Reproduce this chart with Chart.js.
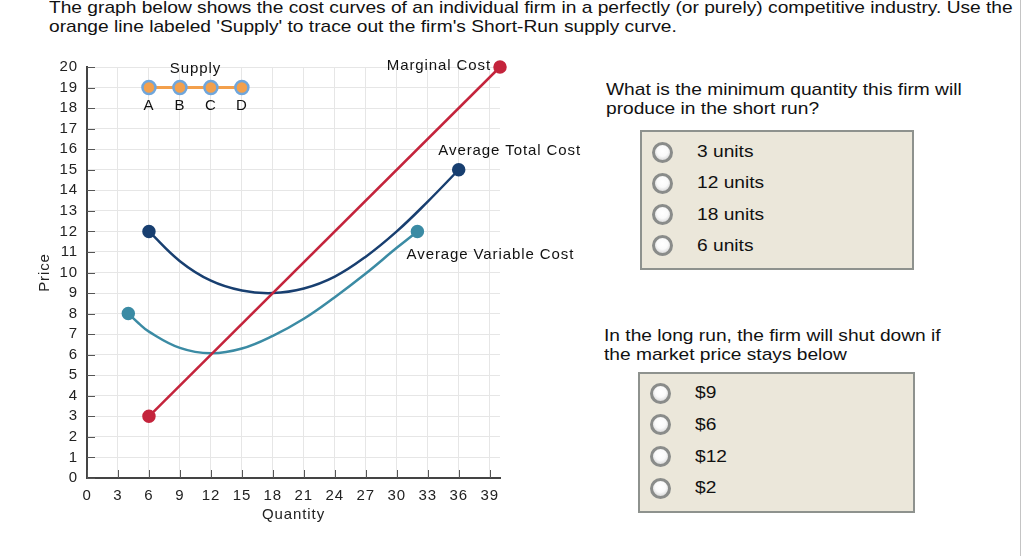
<!DOCTYPE html>
<html>
<head>
<meta charset="utf-8">
<script src="https://cdn.jsdelivr.net/npm/chart.js@4.4.0/dist/chart.umd.min.js"></script>
<style>
  html, body { margin:0; padding:0; background:#fff; }
  body { width:1024px; height:556px; position:relative; overflow:hidden; font-family:"Liberation Sans", Arial, sans-serif; color:#111; }
  .sx { transform:scaleX(1.155); transform-origin:0 0; }
  #title { position:absolute; left:49px; top:-2px; font-size:16.6px; line-height:19px; white-space:nowrap; }
  #chartWrap { position:absolute; left:0; top:0; width:600px; height:556px; }
  .q { position:absolute; font-size:16.6px; line-height:19px; white-space:nowrap; }
  .box { position:absolute; background:#ebe7da; border:2px solid #8e928e; box-sizing:border-box; }
  .opt { position:absolute; font-size:16.6px; line-height:20px; white-space:nowrap; }
  .radio { position:absolute; width:21px; height:21px; border-radius:50%; box-sizing:border-box;
           border:3px solid #8a8c8a; background:radial-gradient(circle at 50% 40%, #ffffff 0%, #fafafa 45%, #c4c4c4 100%); }
  #vline { position:absolute; left:1020px; top:0; width:1px; height:556px; background:#c4c4c4; }
</style>
</head>
<body>
<div id="title" class="sx">The graph below shows the cost curves of an individual firm in a perfectly (or purely) competitive industry. Use the<br>orange line labeled 'Supply' to trace out the firm's Short-Run supply curve.</div>
<div id="chartWrap"><canvas id="c"></canvas></div>
<div id="vline"></div>
<div id="qa"></div>
<script>
// ---- data ----
const xTickLabels = [0, 3, 6, 9, 12, 15, 18, 21, 24, 27, 30, 33, 36, 39];
const yTickLabels = [0,1,2,3,4,5,6,7,8,9,10,11,12,13,14,15,16,17,18,19,20];
const supplyQ = [6, 9, 12, 15];
const supplyP = [19, 19, 19, 19];
const supplyPointNames = ['A', 'B', 'C', 'D'];
const mcQ = [6, 40];
const mcP = [3, 20];
const atcQ = [6, 9, 12, 15, 18, 21, 24, 27, 30, 33, 36];
const atcP = [12, 10.55, 9.6, 9.12, 9.0, 9.22, 9.8, 10.77, 12.0, 13.45, 15];
const avcQ = [4, 5, 6, 9, 12, 15, 18, 21, 24, 27, 30, 32];
const avcP = [8, 7.53, 7.12, 6.33, 6.07, 6.3, 6.92, 7.75, 8.8, 9.95, 11.2, 12];
const curveNames = ['Supply', 'Marginal Cost', 'Average Total Cost', 'Average Variable Cost'];
const question1 = ['What is the minimum quantity this firm will', 'produce in the short run?'];
const answers1 = ['3 units', '12 units', '18 units', '6 units'];
const question2 = ['In the long run, the firm will shut down if', 'the market price stays below'];
const answers2 = ['$9', '$6', '$12', '$2'];

// ---- question panel ----
(function(){
  const qa = document.getElementById('qa');
  function addQ(lines, left, top){
    const d = document.createElement('div'); d.className='q sx';
    d.style.left=left+'px'; d.style.top=top+'px';
    d.innerHTML = lines.join('<br>'); qa.appendChild(d);
  }
  function addBox(opts, left, top, w, h, textLeft, firstY, step){
    const b = document.createElement('div'); b.className='box';
    b.style.left=left+'px'; b.style.top=top+'px'; b.style.width=w+'px'; b.style.height=h+'px';
    qa.appendChild(b);
    opts.forEach((t,i)=>{
      const cy = firstY + i*step;
      const r = document.createElement('div'); r.className='radio';
      r.style.left=(left+12)+'px'; r.style.top=(cy-10.5)+'px'; qa.appendChild(r);
      const o = document.createElement('div'); o.className='opt sx';
      o.style.left=textLeft+'px'; o.style.top=(cy-10)+'px'; o.textContent=t; qa.appendChild(o);
    });
  }
  addQ(question1, 606, 80);
  addBox(answers1, 640, 130, 274, 140, 697, 152, 31.3);
  addQ(question2, 604, 326);
  addBox(answers2, 638, 372, 277, 141, 695, 393, 31.8);
})();

// ---- chart ----
const pts = (xs, ys) => xs.map((x,i)=>({x:x, y:ys[i]}));
const endRadius = (n, r) => Array.from({length:n}, (_,i)=> (i===0||i===n-1) ? r : 0);

const FONT = '"Liberation Sans", Arial, sans-serif';
const SPACING = '0.9px';

const labelPlugin = {
  id:'labels',
  beforeDraw(chart){ chart.ctx.letterSpacing = SPACING; },
  afterDatasetsDraw(chart){
    const ctx = chart.ctx, xs = chart.scales.x, ys = chart.scales.y;
    ctx.save();
    ctx.letterSpacing = SPACING;
    // inward tick marks
    ctx.strokeStyle = '#555'; ctx.lineWidth = 1;
    xTickLabels.forEach(v=>{
      const px = Math.round(xs.getPixelForValue(v))+0.5;
      ctx.beginPath(); ctx.moveTo(px, ys.bottom); ctx.lineTo(px, ys.bottom-8); ctx.stroke();
    });
    yTickLabels.forEach(v=>{
      const py = Math.round(ys.getPixelForValue(v))+0.5;
      ctx.beginPath(); ctx.moveTo(xs.left, py); ctx.lineTo(xs.left+8, py); ctx.stroke();
    });
    ctx.fillStyle = '#111';
    ctx.font = '15px ' + FONT;
    ctx.textBaseline = 'middle';
    const sx = (xs.getPixelForValue(supplyQ[0]) + xs.getPixelForValue(supplyQ[supplyQ.length-1]))/2;
    ctx.textAlign = 'center';
    ctx.fillText(curveNames[0], sx, ys.getPixelForValue(supplyP[0]) - 19);
    supplyQ.forEach((q,i)=>{
      ctx.fillText(supplyPointNames[i], xs.getPixelForValue(q), ys.getPixelForValue(supplyP[i]) + 18);
    });
    ctx.textAlign = 'right';
    ctx.fillText(curveNames[1], xs.getPixelForValue(mcQ[1]) - 9, ys.getPixelForValue(mcP[1]) - 1);
    ctx.textAlign = 'center';
    ctx.fillText(curveNames[2], xs.getPixelForValue(atcQ[atcQ.length-1]) + 51, ys.getPixelForValue(atcP[atcP.length-1]) - 19);
    ctx.fillText(curveNames[3], xs.getPixelForValue(avcQ[avcQ.length-1]) + 73, ys.getPixelForValue(avcP[avcP.length-1]) + 23);
    ctx.restore();
  }
};

new Chart(document.getElementById('c'), {
  type:'line',
  data:{ datasets:[
    { label:'Supply', data:pts(supplyQ, supplyP), borderColor:'#f3a04c', borderWidth:3,
      pointRadius:6.5, pointHoverRadius:6.5, pointBackgroundColor:'#f3a04c', pointBorderColor:'#6fa6dc', pointBorderWidth:2.5, clip:false, order:0 },
    { label:'Marginal Cost', data:pts(mcQ, mcP), borderColor:'#c4243c', borderWidth:2.5,
      pointRadius:5.5, pointBackgroundColor:'#c4243c', pointBorderColor:'#c4243c', clip:false, order:1 },
    { label:'Average Total Cost', data:pts(atcQ, atcP), borderColor:'#183f70', borderWidth:2.5, tension:0.4,
      pointRadius:endRadius(atcQ.length,5.5), pointBackgroundColor:'#183f70', pointBorderColor:'#183f70', clip:false, order:2 },
    { label:'Average Variable Cost', data:pts(avcQ, avcP), borderColor:'#3b8ba4', borderWidth:2.5, tension:0.4,
      pointRadius:endRadius(avcQ.length,5.5), pointBackgroundColor:'#3b8ba4', pointBorderColor:'#3b8ba4', clip:false, order:3 }
  ]},
  options:{
    responsive:true, maintainAspectRatio:false, animation:false,
    layout:{ padding:{ top:67, right:100, left:0, bottom:0 } },
    plugins:{ legend:{display:false}, tooltip:{enabled:false} },
    events:[],
    scales:{
      x:{ type:'linear', min:0, max:40,
          afterFit(s){ s.height = 78; },
          ticks:{ stepSize:3, includeBounds:false, color:'#222', font:{size:15, family:FONT}, padding:9, maxRotation:0, autoSkip:false },
          grid:{ color:'#e6e6e6', drawTicks:false, lineWidth:1 },
          border:{ color:'#444', width:2 },
          title:{ display:true, text:'Quantity', color:'#222', font:{size:15, family:FONT}, padding:{top:0,bottom:32} } },
      y:{ type:'linear', min:0, max:20,
          afterFit(s){ s.width = 87; },
          ticks:{ stepSize:1, color:'#222', font:{size:15, family:FONT}, padding:9, autoSkip:false },
          grid:{ color:'#e6e6e6', drawTicks:false, lineWidth:1 },
          border:{ color:'#444', width:2 },
          title:{ display:true, text:'Price', color:'#222', font:{size:15, family:FONT}, padding:{top:36,bottom:0} } }
    }
  },
  plugins:[labelPlugin]
});
</script>
</body>
</html>
